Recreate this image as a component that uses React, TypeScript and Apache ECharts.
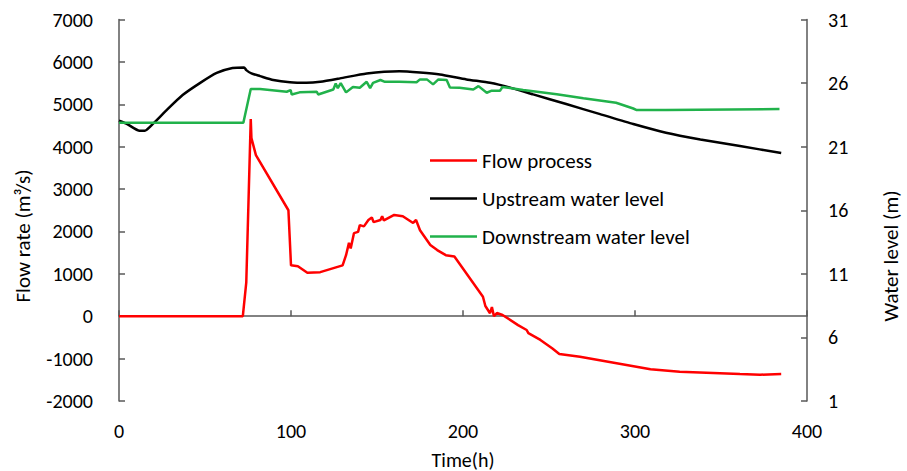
import React, { useEffect, useRef } from "react";
import * as echarts from "echarts";

const xTicks = [0, 100, 200, 300, 400];
const leftTicks = [-2000, -1000, 0, 1000, 2000, 3000, 4000, 5000, 6000, 7000];
const rightTicks = [1, 6, 11, 16, 21, 26, 31];

const seriesNames = ["Flow process", "Upstream water level", "Downstream water level"];

const flowTime = [0, 72, 74, 76.6, 77, 79.6, 98.5, 100, 104, 109.5, 117, 130, 132, 133.7, 134.7, 136.6, 139, 140, 142.4, 145, 147, 148, 152, 153, 154, 160, 165, 171, 172.7, 175, 181, 185, 190, 195, 211.6, 213, 215.7, 216.8, 218, 219.7, 223, 232, 237, 238, 245, 252, 256, 268, 309, 326, 361, 372.7, 385];
const flowValue = [0, 0, 800, 4650, 4200, 3800, 2500, 1200, 1180, 1025, 1040, 1200, 1440, 1730, 1600, 1960, 1990, 2150, 2120, 2270, 2330, 2220, 2270, 2360, 2260, 2390, 2360, 2200, 2270, 2030, 1680, 1560, 1440, 1410, 460, 240, 70, 215, 0, 75, 30, -210, -325, -400, -560, -760, -890, -955, -1250, -1310, -1365, -1380, -1365];

const upTime = [0, 4.5, 12, 15, 20, 27.7, 37, 47, 56.8, 66, 72.7, 74, 77, 82, 89.7, 99.4, 109, 117, 128.5, 144, 163, 175, 186.6, 202, 215.7, 227, 240.8, 260, 279.7, 299, 318, 338, 361, 385];
const upLevel = [23.04, 22.8, 22.25, 22.25, 22.83, 23.88, 25.06, 26.0, 26.8, 27.18, 27.23, 27.02, 26.76, 26.55, 26.24, 26.06, 26.02, 26.1, 26.37, 26.76, 26.94, 26.84, 26.68, 26.29, 26.02, 25.66, 25.11, 24.35, 23.56, 22.78, 22.1, 21.57, 21.05, 20.5];

const downTime = [0, 72.3, 76.6, 82, 97.5, 99.8, 100.4, 105, 115, 115.8, 124.6, 126, 127.2, 128.9, 132, 136, 140, 144, 146, 147.7, 152, 154.6, 163, 173, 175, 179, 182.6, 185.7, 190.5, 192.4, 198, 206, 209, 213.8, 216.7, 221.5, 223, 235, 254.5, 270, 289, 299, 301, 318, 384];
const downLevel = [22.88, 22.88, 25.53, 25.53, 25.32, 25.45, 25.1, 25.27, 25.32, 25.1, 25.5, 25.97, 25.6, 26.0, 25.27, 25.7, 25.63, 26.1, 25.6, 26.02, 26.24, 26.1, 26.1, 26.06, 26.29, 26.29, 25.9, 26.29, 26.24, 25.66, 25.63, 25.5, 25.76, 25.24, 25.4, 25.4, 25.7, 25.45, 25.13, 24.8, 24.45, 24.0, 23.88, 23.88, 23.96];

const FONT = "Calibri, Carlito, 'Noto Sans', sans-serif";
const AXIS_COLOR = "#595959";

function pairs(xs: number[], ys: number[]) {
  return xs.map((x, i) => [x, ys[i]]);
}

export default function App() {
  const ref = useRef<HTMLDivElement>(null);
  useEffect(() => {
    if (!ref.current) return;
    const chart = echarts.init(ref.current, undefined, { renderer: "svg" });
    const axisLine = { show: true, lineStyle: { color: AXIS_COLOR, width: 1.5 } };
    const axisTick = { show: true, inside: true, length: 6, lineStyle: { color: AXIS_COLOR, width: 1.5 } };
    const label = { color: "#000", fontSize: 20, fontFamily: FONT, formatter: (v: number) => String(v) };
    chart.setOption({
      animation: false,
      backgroundColor: "#fff",
      grid: { left: 119, right: 100, top: 19.5, bottom: 70, containLabel: false },
      legend: {
        data: seriesNames,
        orient: "vertical",
        left: 430,
        top: 149.5,
        padding: 0,
        icon: "rect",
        itemWidth: 47,
        itemHeight: 2.5,
        itemGap: 16,
        textStyle: { color: "#000", fontSize: 21, fontFamily: FONT, lineHeight: 22 },
      },
      xAxis: {
        type: "value",
        min: xTicks[0],
        max: xTicks[xTicks.length - 1],
        interval: 100,
        axisLine,
        axisTick,
        splitLine: { show: false },
        axisLabel: { ...label, margin: 20 },
      },
      yAxis: [
        {
          type: "value",
          min: leftTicks[0],
          max: leftTicks[leftTicks.length - 1],
          interval: 1000,
          axisLine,
          axisTick,
          splitLine: { show: false },
          axisLabel: { ...label, margin: 26 },
        },
        {
          type: "value",
          position: "right",
          min: rightTicks[0],
          max: rightTicks[rightTicks.length - 1],
          axisLine,
          axisTick: { ...axisTick, customValues: rightTicks },
          splitLine: { show: false },
          axisLabel: { ...label, margin: 21, customValues: rightTicks },
        },
      ],
      graphic: [
        {
          type: "text",
          x: 23,
          y: 236,
          rotation: Math.PI / 2,
          style: { text: "Flow rate (m³/s)", fill: "#000", font: `21px ${FONT}`, align: "center", verticalAlign: "middle" },
        },
        {
          type: "text",
          x: 891,
          y: 256,
          rotation: Math.PI / 2,
          style: { text: "Water level (m)", fill: "#000", font: `21px ${FONT}`, align: "center", verticalAlign: "middle" },
        },
        {
          type: "text",
          x: 463,
          y: 460,
          style: { text: "Time(h)", fill: "#000", font: `20px ${FONT}`, align: "center", verticalAlign: "middle" },
        },
      ],
      series: [
        {
          name: seriesNames[0],
          type: "line",
          yAxisIndex: 0,
          data: pairs(flowTime, flowValue),
          symbol: "none",
          lineStyle: { color: "#ff0000", width: 2.5 },
          itemStyle: { color: "#ff0000" },
          z: 3,
        },
        {
          name: seriesNames[1],
          type: "line",
          yAxisIndex: 1,
          data: pairs(upTime, upLevel),
          symbol: "none",
          smooth: 0.2,
          lineStyle: { color: "#000000", width: 2.5 },
          itemStyle: { color: "#000000" },
          z: 2,
        },
        {
          name: seriesNames[2],
          type: "line",
          yAxisIndex: 1,
          data: pairs(downTime, downLevel),
          symbol: "none",
          lineStyle: { color: "#21b24b", width: 2.5 },
          itemStyle: { color: "#21b24b" },
          z: 2,
        },
      ],
    });
    return () => chart.dispose();
  }, []);
  return <div ref={ref} style={{ position: "fixed", left: 0, top: 0, width: 907, height: 471 }} />;
}
